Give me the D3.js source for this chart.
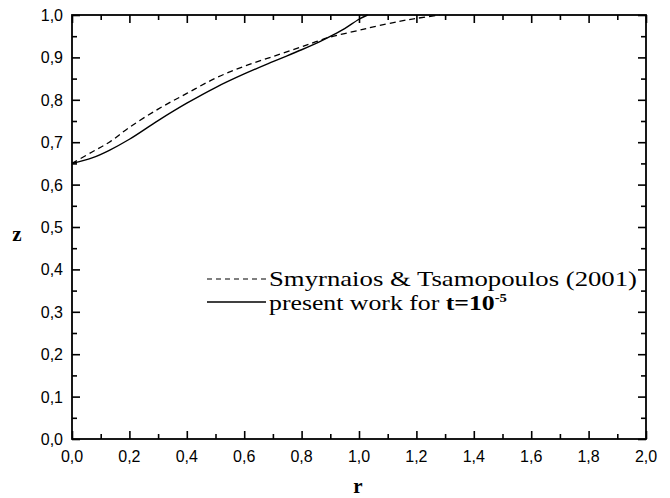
<!DOCTYPE html>
<html lang="en">
<head>
    <meta charset="UTF-8">
    <title>z versus r</title>
    <script src="https://d3js.org/d3.v7.min.js"></script>
    <style>
        body { margin: 0; background: #fff; }
        .tick-label { font-family: "Liberation Sans", Arial, sans-serif; font-size: 16px; fill: #000; }
        .axis-title { font-family: "Liberation Serif", "Times New Roman", serif; font-size: 21px; font-weight: bold; }
        .legend-text { font-family: "Liberation Serif", "Times New Roman", serif; font-size: 21px; }
    </style>
</head>
<body>
    <div id="chart"></div>
    <script>
        // ticks
        const xTicks = [0, 0.2, 0.4, 0.6, 0.8, 1.0, 1.2, 1.4, 1.6, 1.8, 2.0];
        const yTicks = [0, 0.1, 0.2, 0.3, 0.4, 0.5, 0.6, 0.7, 0.8, 0.9, 1.0];

        // Smyrnaios & Tsamopoulos (2001), dashed
        const refR = [0, 0.07, 0.13, 0.2, 0.3, 0.4, 0.5, 0.6, 0.7, 0.8, 0.85, 0.9, 1.0, 1.05, 1.14, 1.2, 1.28];
        const refZ = [0.65, 0.677, 0.70, 0.735, 0.778, 0.815, 0.851, 0.879, 0.902, 0.925, 0.937, 0.948, 0.964, 0.972, 0.985, 0.992, 1.0];

        // present work, solid
        const workR = [0, 0.07, 0.13, 0.2, 0.3, 0.4, 0.5, 0.6, 0.7, 0.8, 0.86, 0.91, 0.95, 1.0, 1.03];
        const workZ = [0.65, 0.663, 0.681, 0.707, 0.751, 0.792, 0.829, 0.861, 0.89, 0.918, 0.936, 0.953, 0.968, 0.99, 1.0];

        const W = 670, H = 498;
        const margin = { top: 15, right: 24, bottom: 59, left: 72 };
        const width = W - margin.left - margin.right,
              height = H - margin.top - margin.bottom;

        const svg = d3.select("#chart").append("svg")
            .attr("width", W).attr("height", H);
        const g = svg.append("g")
            .attr("transform", `translate(${margin.left},${margin.top})`);

        const x = d3.scaleLinear().domain([0, 2]).range([0, width]);
        const y = d3.scaleLinear().domain([0, 1]).range([height, 0]);

        const fmt = v => d3.format(".1f")(v).replace(".", ",");
        const xMinor = d3.range(0.1, 2, 0.2);
        const yMinor = d3.range(0.05, 1, 0.1);

        // inward ticks on all four sides
        function ticks(axisGen, vals, len, transform) {
            const a = g.append("g").attr("transform", transform)
                .call(axisGen.tickValues(vals).tickSizeInner(-len).tickSizeOuter(0).tickFormat(""));
            a.select(".domain").remove();
            a.selectAll("line").attr("stroke", "#000").attr("stroke-width", 1.6);
        }
        ticks(d3.axisBottom(x), xTicks, 8, `translate(0,${height})`);
        ticks(d3.axisBottom(x), xMinor, 5, `translate(0,${height})`);
        ticks(d3.axisTop(x), xTicks, 8, "translate(0,0)");
        ticks(d3.axisTop(x), xMinor, 5, "translate(0,0)");
        ticks(d3.axisLeft(y), yTicks, 8, "translate(0,0)");
        ticks(d3.axisLeft(y), yMinor, 5, "translate(0,0)");
        ticks(d3.axisRight(y), yTicks, 8, `translate(${width},0)`);
        ticks(d3.axisRight(y), yMinor, 5, `translate(${width},0)`);

        g.append("rect").attr("width", width).attr("height", height)
            .attr("fill", "none").attr("stroke", "#000").attr("stroke-width", 1.8);

        // tick labels
        g.selectAll(".xl").data(xTicks).enter().append("text")
            .attr("class", "tick-label").attr("text-anchor", "middle")
            .attr("x", d => x(d)).attr("y", height + 23).text(fmt);
        g.selectAll(".yl").data(yTicks).enter().append("text")
            .attr("class", "tick-label").attr("text-anchor", "end")
            .attr("x", -9).attr("y", d => y(d) + 6).text(fmt);

        // axis titles
        svg.append("text").attr("class", "axis-title").attr("text-anchor", "middle")
            .attr("x", 358).attr("y", 493).text("r");
        svg.append("text").attr("class", "axis-title").attr("text-anchor", "middle")
            .attr("x", 17).attr("y", 241).text("z");

        // curves
        const line = d3.line().x(d => x(d[0])).y(d => y(d[1])).curve(d3.curveCatmullRom);
        g.append("path").datum(d3.zip(refR, refZ)).attr("d", line)
            .attr("fill", "none").attr("stroke", "#000").attr("stroke-width", 1.3)
            .attr("stroke-dasharray", "6,4");
        g.append("path").datum(d3.zip(workR, workZ)).attr("d", line)
            .attr("fill", "none").attr("stroke", "#000").attr("stroke-width", 1.4);

        // legend
        const lg = svg.append("g");
        lg.append("line").attr("x1", 207).attr("x2", 266).attr("y1", 279).attr("y2", 279)
            .attr("stroke", "#000").attr("stroke-width", 1.2).attr("stroke-dasharray", "5,4");
        lg.append("text").attr("class", "legend-text").attr("x", 269).attr("y", 286)
            .attr("textLength", 368).attr("lengthAdjust", "spacingAndGlyphs")
            .text("Smyrnaios & Tsamopoulos (2001)");
        lg.append("line").attr("x1", 207).attr("x2", 266).attr("y1", 302).attr("y2", 302)
            .attr("stroke", "#000").attr("stroke-width", 1.3);
        const t2 = lg.append("text").attr("class", "legend-text").attr("x", 269).attr("y", 310)
            .attr("textLength", 238).attr("lengthAdjust", "spacingAndGlyphs");
        t2.append("tspan").text("present work for ");
        t2.append("tspan").attr("font-weight", "bold").text("t=10");
        t2.append("tspan").attr("font-weight", "bold").attr("font-size", "12px")
            .attr("dy", -8).text("-5");
    </script>
</body>
</html>
